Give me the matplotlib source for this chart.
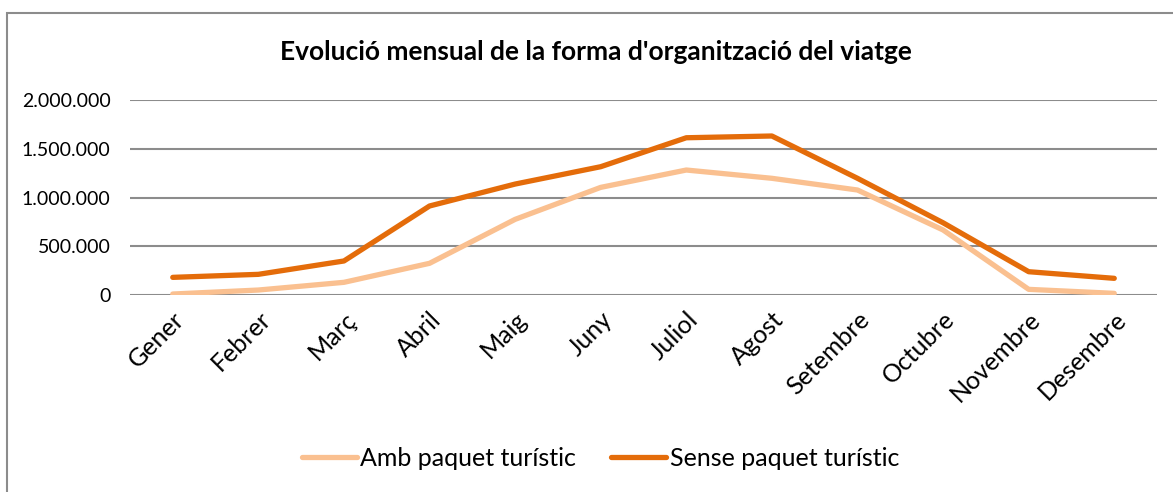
#!/usr/bin/env python3
"""
Monthly evolution of how the trip was organised: line chart, two series.
"""
import matplotlib
matplotlib.use("Agg")
import matplotlib.pyplot as plt
from matplotlib.patches import Rectangle
from matplotlib.ticker import FuncFormatter

months = ["Gener", "Febrer", "Març", "Abril", "Maig", "Juny", "Juliol",
          "Agost", "Setembre", "Octubre", "Novembre", "Desembre"]
amb_paquet = [10000, 51000, 130000, 325000, 776000, 1104000, 1282000,
              1197000, 1077000, 667000, 58000, 17000]
sense_paquet = [181000, 212000, 349000, 913000, 1138000, 1316000, 1613000,
                1631000, 1197000, 741000, 239000, 171000]

plt.rcParams['font.family'] = ['Lato', 'DejaVu Sans']

fig = plt.figure(figsize=(11.73, 4.92), dpi=100)
ax = fig.add_axes([0.1108, 0.4004, 0.8756, 0.3963])

# chart border (goes off the right and bottom edges in the original)
fig.patches.append(Rectangle((7 / 1173, -0.1), 1.2, 1 - 13 / 492 + 0.1,
                             transform=fig.transFigure, fill=False,
                             edgecolor="#8c8c8c", linewidth=1.5))

x = range(len(months))
ax.plot(x, amb_paquet, color="#FAC090", linewidth=3.8, solid_capstyle="round",
        label="Amb paquet turístic", zorder=3)
ax.plot(x, sense_paquet, color="#E46C0A", linewidth=3.8, solid_capstyle="round",
        label="Sense paquet turístic", zorder=3)

ax.set_xlim(-0.5, len(months) - 0.5)
ax.set_ylim(0, 2000000)
ax.set_yticks([0, 500000, 1000000, 1500000, 2000000])
ax.yaxis.set_major_formatter(FuncFormatter(lambda v, _: f"{int(v):,}".replace(",", ".")))
ax.grid(axis="y", color="#8c8c8c", linewidth=1.5)
ax.set_axisbelow(True)
for s in ax.spines.values():
    s.set_visible(False)
ax.tick_params(axis="both", length=0, labelcolor="black")
ax.tick_params(axis="y", pad=14, labelsize=14)
ax.set_xticks(list(x))
ax.set_xticklabels(months, rotation=45, ha="right", rotation_mode="anchor")
ax.tick_params(axis="x", pad=9, labelsize=18)

fig.text(0.508, 0.894, "Evolució mensual de la forma d'organització del viatge",
         ha="center", va="center", fontsize=19, fontweight="bold")

fig.legend(loc="center", bbox_to_anchor=(0.512, 0.069), ncol=2, frameon=False,
           fontsize=18, handlelength=2.2, handletextpad=0.15, columnspacing=1.4)

fig.savefig("out.png", dpi=100, facecolor="white")
